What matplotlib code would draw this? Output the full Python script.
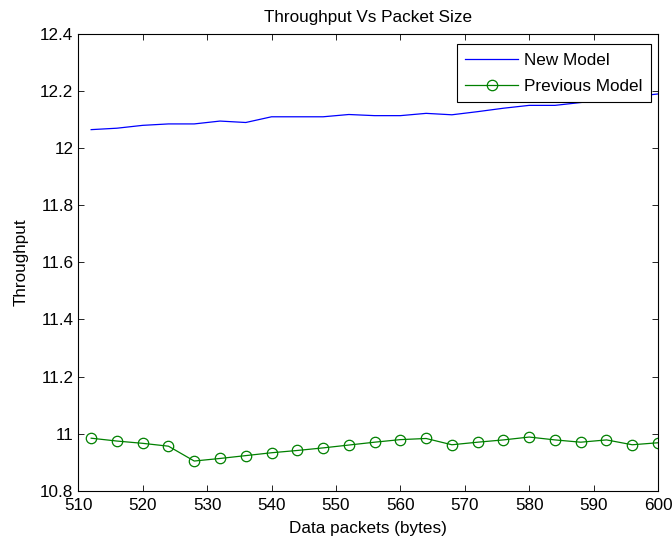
import numpy as np
import matplotlib
matplotlib.use("Agg")
import matplotlib.pyplot as plt

plt.rcParams['font.family'] = ['Liberation Sans', 'DejaVu Sans']

# packet sizes (bytes)
packet_size = [512, 516, 520, 524, 528, 532, 536, 540, 544, 548, 552, 556,
               560, 564, 568, 572, 576, 580, 584, 588, 592, 596, 600]

new_model = [12.065, 12.070, 12.080, 12.085, 12.085, 12.095, 12.090, 12.110,
             12.110, 12.110, 12.118, 12.114, 12.114, 12.122, 12.117, 12.128,
             12.140, 12.150, 12.150, 12.160, 12.170, 12.180, 12.190]

prev_model = [10.984, 10.974, 10.966, 10.956, 10.904, 10.913, 10.923, 10.933,
              10.941, 10.950, 10.960, 10.970, 10.979, 10.983, 10.961, 10.970,
              10.978, 10.988, 10.978, 10.970, 10.978, 10.961, 10.968]

fs = 12.3

fig = plt.figure(figsize=(6.72, 5.45), dpi=100)
ax = fig.add_axes([0.1165, 0.0996, 0.8627, 0.838])

ax.plot(packet_size, new_model, color='#0000ff', lw=0.9, label='New Model')
ax.plot(packet_size, prev_model, color='#008000', lw=0.9, marker='o',
        markersize=7.5, markerfacecolor='none', markeredgecolor='#008000',
        markeredgewidth=0.9, label='Previous Model')

ax.set_xlim(510, 600)
ax.set_ylim(10.8, 12.4)
ax.set_xticks(np.arange(510, 601, 10))
ax.set_yticks(np.round(np.arange(10.8, 12.41, 0.2), 1))
ax.set_yticklabels(['10.8', '11', '11.2', '11.4', '11.6', '11.8', '12', '12.2', '12.4'])

ax.tick_params(direction='in', top=True, right=True, length=4.5, width=0.6,
               labelsize=fs)
ax.tick_params(axis='y', pad=3.5)
ax.tick_params(axis='x', pad=5)
for s in ax.spines.values():
    s.set_linewidth(0.8)

ax.set_title('Throughput Vs Packet Size', fontsize=fs, pad=9)
ax.set_xlabel('Data packets (bytes)', fontsize=fs, labelpad=6)
ax.set_ylabel('Throughput', fontsize=fs, labelpad=8)

leg = ax.legend(loc='upper right', bbox_to_anchor=(0.988, 0.978),
                fontsize=fs, fancybox=False, edgecolor='black', framealpha=1,
                borderaxespad=0, handlelength=3.1, handletextpad=0.35,
                borderpad=0.5, labelspacing=0.65)
leg.get_frame().set_linewidth(0.8)

fig.savefig('out.png', dpi=100)
